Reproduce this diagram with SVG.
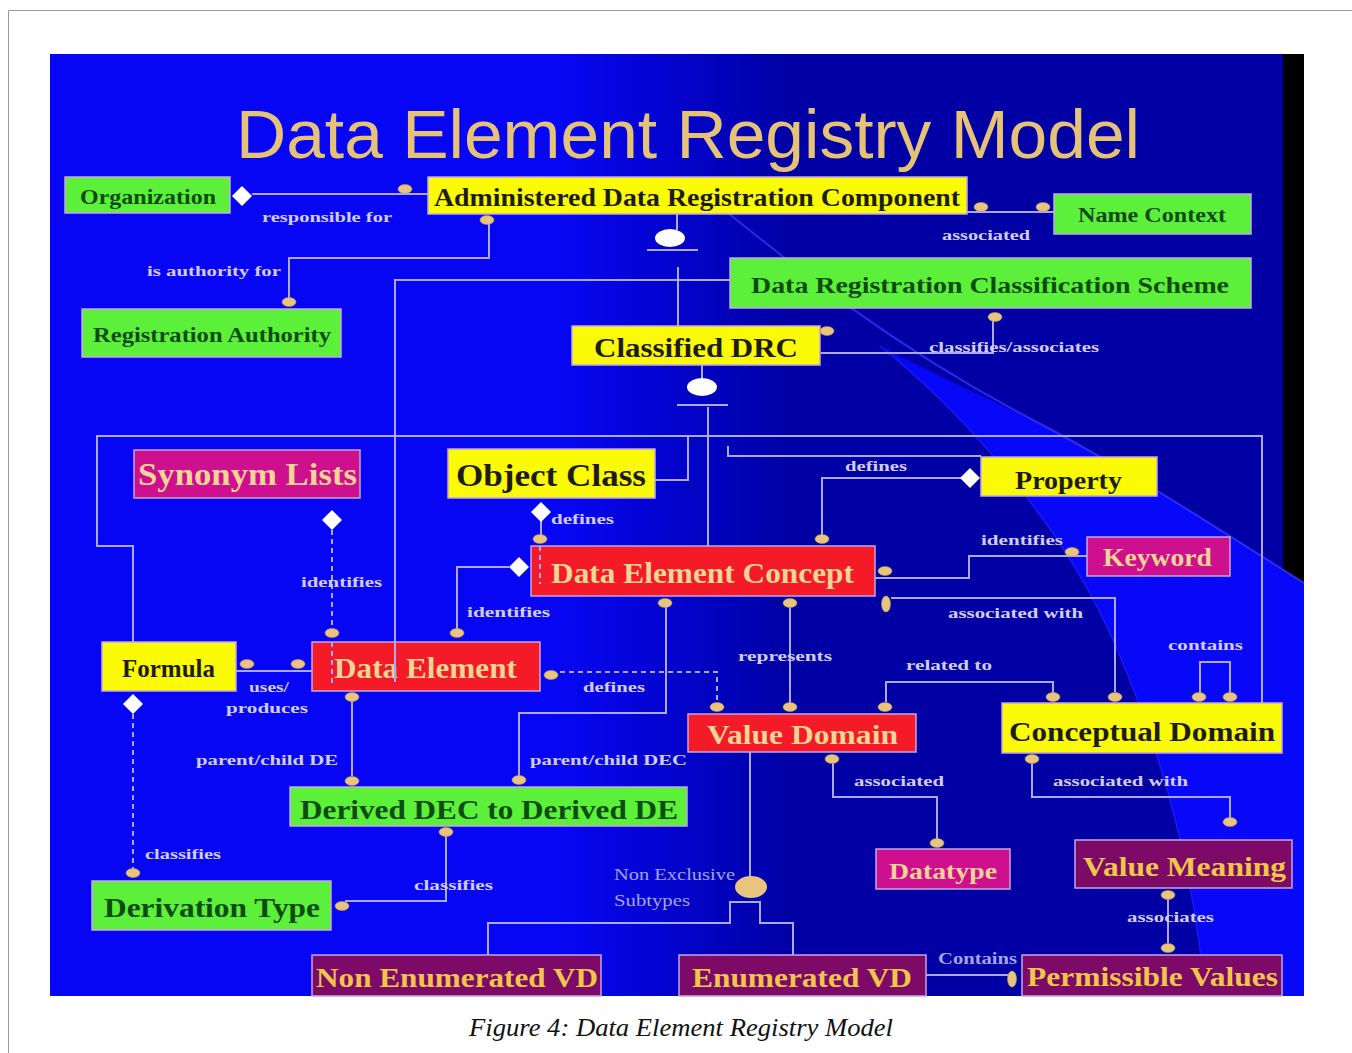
<svg xmlns="http://www.w3.org/2000/svg" xmlns:xlink="http://www.w3.org/1999/xlink" width="1352" height="1053" viewBox="0 0 1352 1053">
  <style>
    .box { stroke: #c4a6e6; stroke-width: 1.5; }
    .g { fill: #5cf03a; }
    .y { fill: #fbfb06; }
    .r { fill: #f41a28; }
    .m { fill: #cf108e; }
    .p { fill: #7c0a66; }
    .t { font-family: "Liberation Serif", "Times New Roman", serif; font-weight: bold; }
    .tg { fill: #0c4c10; }
    .ty { fill: #1e1e08; }
    .tr { fill: #f6d494; }
    .tp { fill: #efc64a; }
    .lbl { font-family: "Liberation Serif", "Times New Roman", serif; font-weight: bold; font-size: 15px; fill: #d2ccf2; }
    .lbl2 { font-family: "Liberation Serif", "Times New Roman", serif; font-size: 16px; fill: #a4a4ea; }
    .ln { fill: none; stroke: #aaa8ff; stroke-width: 2; }
    .dash { stroke-dasharray: 5 4; }
  </style>
  <defs>
    <linearGradient id="bgGrad" gradientUnits="userSpaceOnUse" x1="560" y1="0" x2="790" y2="0">
      <stop offset="0" stop-color="#0606f4"/>
      <stop offset="1" stop-color="#0000a4"/>
    </linearGradient>
    <ellipse id="ov" cx="0" cy="0" rx="7" ry="4.5" fill="#e8c47e" stroke="#b89050" stroke-width="0.6"/>
    <ellipse id="ovv" cx="0" cy="0" rx="4.5" ry="8" fill="#e8c47e" stroke="#b89050" stroke-width="0.6"/>
    <polygon id="dm" points="0,-10 10,0 0,10 -10,0" fill="#ffffff"/>
  </defs>

  <!-- page frame -->
  <rect x="0" y="0" width="1352" height="1053" fill="#ffffff"/>
  <path d="M8.5,1053 V10.5 H1352" fill="none" stroke="#9a9a9a" stroke-width="1"/>

  <!-- slide background -->
  <rect x="50" y="54" width="1254" height="942" fill="url(#bgGrad)"/>
  <path d="M1283,54 H1304 V583 L1283,571 Z" fill="#000000"/>
  <path d="M880,346 C960,410 1060,520 1113,640 S1195,880 1205,996 H1304 V583 C1200,515 1100,455 1033,420 C980,395 930,372 880,346 Z" fill="#0808f8"/>
  <path d="M690,182 C780,255 880,340 1033,420 C1120,465 1220,530 1304,583" fill="none" stroke="#3a3aff" stroke-width="2" opacity="0.7"/>
  <path d="M880,346 C960,410 1060,520 1113,640 S1195,880 1205,996" fill="none" stroke="#2a2aff" stroke-width="1.5" opacity="0.6"/>

  <!-- title -->
  <text x="236" y="158" font-family="Liberation Sans, Arial, sans-serif" font-size="69" fill="#e6c276" textLength="904" lengthAdjust="spacingAndGlyphs">Data Element Registry Model</text>

  <!-- nodes -->
  <g id="nodes">
    <g id="organization"><rect class="box g" x="65" y="177" width="165" height="36"/><text class="t tg" x="80" y="204" font-size="21" textLength="136" lengthAdjust="spacingAndGlyphs">Organization</text></g>
    <g id="administered-drc"><rect class="box y" x="428" y="177" width="539" height="37"/><text class="t ty" x="434" y="206" font-size="25" textLength="526" lengthAdjust="spacingAndGlyphs">Administered Data Registration Component</text></g>
    <g id="name-context"><rect class="box g" x="1054" y="194" width="197" height="40"/><text class="t tg" x="1078" y="222" font-size="21" textLength="148" lengthAdjust="spacingAndGlyphs">Name Context</text></g>
    <g id="classification-scheme"><rect class="box g" x="730" y="258" width="521" height="50"/><text class="t tg" x="751" y="293" font-size="24" textLength="478" lengthAdjust="spacingAndGlyphs">Data Registration Classification Scheme</text></g>
    <g id="registration-authority"><rect class="box g" x="82" y="309" width="259" height="48"/><text class="t tg" x="93" y="342" font-size="22" textLength="238" lengthAdjust="spacingAndGlyphs">Registration Authority</text></g>
    <g id="classified-drc"><rect class="box y" x="572" y="326" width="248" height="39"/><text class="t ty" x="594" y="357" font-size="28" font-weight="normal" textLength="204" lengthAdjust="spacingAndGlyphs">Classified DRC</text></g>
    <g id="synonym-lists"><rect class="box m" x="134" y="450" width="226" height="48"/><text class="t tr" x="138" y="485" font-size="31" textLength="219" lengthAdjust="spacingAndGlyphs">Synonym Lists</text></g>
    <g id="object-class"><rect class="box y" x="448" y="449" width="207" height="49"/><text class="t ty" x="456" y="486" font-size="32" textLength="190" lengthAdjust="spacingAndGlyphs">Object Class</text></g>
    <g id="property"><rect class="box y" x="981" y="457" width="176" height="39"/><text class="t ty" x="1015" y="489" font-size="25" textLength="107" lengthAdjust="spacingAndGlyphs">Property</text></g>
    <g id="data-element-concept"><rect class="box r" x="531" y="546" width="344" height="50"/><text class="t tr" x="551" y="583" font-size="29" font-weight="normal" textLength="303" lengthAdjust="spacingAndGlyphs">Data Element Concept</text></g>
    <g id="keyword"><rect class="box m" x="1087" y="537" width="143" height="39"/><text class="t tr" x="1103" y="566" font-size="25" textLength="109" lengthAdjust="spacingAndGlyphs">Keyword</text></g>
    <g id="formula"><rect class="box y" x="102" y="642" width="134" height="49"/><text class="t ty" x="122" y="677" font-size="25" font-weight="normal" textLength="93" lengthAdjust="spacingAndGlyphs">Formula</text></g>
    <g id="data-element"><rect class="box r" x="312" y="642" width="228" height="49"/><text class="t tr" x="334" y="678" font-size="29" font-weight="normal" textLength="183" lengthAdjust="spacingAndGlyphs">Data Element</text></g>
    <g id="value-domain"><rect class="box r" x="688" y="714" width="228" height="38"/><text class="t tr" x="707" y="744" font-size="27" textLength="191" lengthAdjust="spacingAndGlyphs">Value Domain</text></g>
    <g id="conceptual-domain"><rect class="box y" x="1002" y="703" width="280" height="50"/><text class="t ty" x="1009" y="741" font-size="27" textLength="266" lengthAdjust="spacingAndGlyphs">Conceptual Domain</text></g>
    <g id="derived-dec-de"><rect class="box g" x="290" y="787" width="397" height="39"/><text class="t tg" x="300" y="819" font-size="27" textLength="378" lengthAdjust="spacingAndGlyphs">Derived DEC to Derived DE</text></g>
    <g id="datatype"><rect class="box m" x="876" y="849" width="134" height="40"/><text class="t tr" x="889" y="879" font-size="24" textLength="108" lengthAdjust="spacingAndGlyphs">Datatype</text></g>
    <g id="value-meaning"><rect class="box p" x="1075" y="840" width="217" height="48"/><text class="t tp" x="1083" y="876" font-size="28" textLength="203" lengthAdjust="spacingAndGlyphs">Value Meaning</text></g>
    <g id="derivation-type"><rect class="box g" x="92" y="881" width="239" height="49"/><text class="t tg" x="104" y="917" font-size="27" textLength="216" lengthAdjust="spacingAndGlyphs">Derivation Type</text></g>
    <g id="non-enumerated-vd"><rect class="box p" x="312" y="955" width="289" height="41"/><text class="t tp" x="316" y="987" font-size="27" textLength="282" lengthAdjust="spacingAndGlyphs">Non Enumerated VD</text></g>
    <g id="enumerated-vd"><rect class="box p" x="679" y="955" width="247" height="41"/><text class="t tp" x="692" y="987" font-size="27" textLength="220" lengthAdjust="spacingAndGlyphs">Enumerated VD</text></g>
    <g id="permissible-values"><rect class="box p" x="1022" y="955" width="260" height="41"/><text class="t tp" x="1027" y="986" font-size="27" textLength="251" lengthAdjust="spacingAndGlyphs">Permissible Values</text></g>
  </g>

  <!-- connectors -->
  <g id="connectors">
    <!-- Organization / ADRC -->
    <path class="ln" d="M252,194 H428"/>
    <use href="#dm" x="242" y="196"/>
    <use href="#ov" x="405" y="189"/>
    <text class="lbl" x="262" y="222" textLength="130" lengthAdjust="spacingAndGlyphs">responsible for</text>

    <!-- ADRC / Registration Authority -->
    <path class="ln" d="M489,224 V258 H289 V298"/>
    <use href="#ov" x="487" y="220"/>
    <use href="#ov" x="289" y="302"/>
    <text class="lbl" x="147" y="276" textLength="134" lengthAdjust="spacingAndGlyphs">is authority for</text>

    <!-- ADRC / Name Context -->
    <path class="ln" d="M967,212 H1054"/>
    <use href="#ov" x="981" y="207"/>
    <use href="#ov" x="1043" y="207"/>
    <text class="lbl" x="942" y="240" textLength="88" lengthAdjust="spacingAndGlyphs">associated</text>

    <!-- ADRC subtype: Classified DRC -->
    <path class="ln" d="M677,214 V230 M647,250 H698 M678,267 V326"/>
    <ellipse cx="670" cy="238" rx="15" ry="9" fill="#ffffff"/>

    <!-- Classification Scheme / Data Element -->
    <path class="ln" d="M730,280 H395 V682"/>

    <!-- Classification Scheme / Classified DRC -->
    <path class="ln" d="M993,320 V353 H821"/>
    <use href="#ov" x="995" y="317"/>
    <use href="#ov" x="827" y="331"/>
    <text class="lbl" x="929" y="352" textLength="170" lengthAdjust="spacingAndGlyphs">classifies/associates</text>

    <!-- Classified DRC subtypes -->
    <path class="ln" d="M702,365 V378 M677,405 H728 M708,407 V546"/>
    <ellipse cx="702" cy="387" rx="15" ry="9" fill="#ffffff"/>
    <path class="ln" d="M133,642 V546 H97 V436 H1262 V703"/>
    <path class="ln" d="M688,436 V480 H655"/>
    <path class="ln" d="M728,446 V456 H981"/>

    <!-- Object Class / DEC -->
    <path class="ln" d="M541,521 V535"/>
    <path class="ln dash" d="M540,546 V584"/>
    <use href="#dm" x="541" y="512"/>
    <use href="#ov" x="540" y="539"/>
    <text class="lbl" x="551" y="524" textLength="63" lengthAdjust="spacingAndGlyphs">defines</text>

    <!-- Property / DEC -->
    <path class="ln" d="M961,478 H822 V535"/>
    <use href="#dm" x="970" y="478"/>
    <use href="#ov" x="822" y="539"/>
    <text class="lbl" x="845" y="471" textLength="62" lengthAdjust="spacingAndGlyphs">defines</text>

    <!-- Synonym Lists / Data Element -->
    <path class="ln dash" d="M332,530 V629 M332,642 V686"/>
    <use href="#dm" x="332" y="520"/>
    <use href="#ov" x="332" y="633"/>
    <text class="lbl" x="301" y="587" textLength="81" lengthAdjust="spacingAndGlyphs">identifies</text>

    <!-- DEC / Data Element -->
    <path class="ln" d="M509,567 H457 V629"/>
    <use href="#dm" x="519" y="567"/>
    <use href="#ov" x="457" y="633"/>
    <text class="lbl" x="467" y="617" textLength="83" lengthAdjust="spacingAndGlyphs">identifies</text>

    <!-- Keyword / DEC -->
    <path class="ln" d="M1087,556 H969 V578 H875"/>
    <use href="#ov" x="1072" y="552"/>
    <use href="#ov" x="885" y="571"/>
    <text class="lbl" x="981" y="545" textLength="82" lengthAdjust="spacingAndGlyphs">identifies</text>

    <!-- DEC / Conceptual Domain -->
    <path class="ln" d="M891,598 H1115 V692"/>
    <use href="#ovv" x="886" y="604"/>
    <use href="#ov" x="1115" y="697"/>
    <text class="lbl" x="948" y="618" textLength="135" lengthAdjust="spacingAndGlyphs">associated with</text>

    <!-- DEC / Value Domain -->
    <path class="ln" d="M790,607 V703"/>
    <use href="#ov" x="790" y="603"/>
    <use href="#ov" x="790" y="707"/>
    <text class="lbl" x="738" y="661" textLength="94" lengthAdjust="spacingAndGlyphs">represents</text>

    <!-- DEC / Derived -->
    <path class="ln" d="M666,607 V713 H519 V776"/>
    <use href="#ov" x="665" y="603"/>
    <use href="#ov" x="519" y="780"/>
    <text class="lbl" x="530" y="765" textLength="157" lengthAdjust="spacingAndGlyphs">parent/child DEC</text>

    <!-- Formula / Data Element -->
    <path class="ln" d="M236,671 H312"/>
    <use href="#ov" x="247" y="664"/>
    <use href="#ov" x="298" y="664"/>
    <text class="lbl" x="249" y="692" textLength="40" lengthAdjust="spacingAndGlyphs">uses/</text>
    <text class="lbl" x="226" y="713" textLength="82" lengthAdjust="spacingAndGlyphs">produces</text>

    <!-- Formula / Derivation Type -->
    <path class="ln dash" d="M133,714 V869"/>
    <use href="#dm" x="133" y="704"/>
    <use href="#ov" x="133" y="873"/>
    <text class="lbl" x="145" y="859" textLength="76" lengthAdjust="spacingAndGlyphs">classifies</text>

    <!-- Data Element / Value Domain -->
    <path class="ln dash" d="M560,672 H717 V703"/>
    <use href="#ov" x="551" y="675"/>
    <use href="#ov" x="717" y="707"/>
    <text class="lbl" x="583" y="692" textLength="62" lengthAdjust="spacingAndGlyphs">defines</text>

    <!-- Data Element / Derived -->
    <path class="ln" d="M352,701 V776"/>
    <use href="#ov" x="352" y="697"/>
    <use href="#ov" x="352" y="781"/>
    <text class="lbl" x="196" y="765" textLength="142" lengthAdjust="spacingAndGlyphs">parent/child DE</text>

    <!-- Value Domain / Conceptual Domain -->
    <path class="ln" d="M886,702 V682 H1053 V693"/>
    <use href="#ov" x="885" y="707"/>
    <use href="#ov" x="1053" y="697"/>
    <text class="lbl" x="906" y="670" textLength="86" lengthAdjust="spacingAndGlyphs">related to</text>

    <!-- Conceptual Domain contains -->
    <path class="ln" d="M1200,693 V662 H1230 V693"/>
    <use href="#ov" x="1199" y="697"/>
    <use href="#ov" x="1230" y="697"/>
    <text class="lbl" x="1168" y="650" textLength="75" lengthAdjust="spacingAndGlyphs">contains</text>

    <!-- Value Domain / Datatype -->
    <path class="ln" d="M833,762 V797 H937 V839"/>
    <use href="#ov" x="832" y="759"/>
    <use href="#ov" x="937" y="843"/>
    <text class="lbl" x="854" y="786" textLength="90" lengthAdjust="spacingAndGlyphs">associated</text>

    <!-- Conceptual Domain / Value Meaning -->
    <path class="ln" d="M1032,762 V797 H1230 V818"/>
    <use href="#ov" x="1032" y="759"/>
    <use href="#ov" x="1230" y="822"/>
    <text class="lbl" x="1053" y="786" textLength="135" lengthAdjust="spacingAndGlyphs">associated with</text>

    <!-- Derived / Derivation Type -->
    <path class="ln" d="M446,836 V901 H345"/>
    <use href="#ov" x="446" y="832"/>
    <use href="#ov" x="342" y="906"/>
    <text class="lbl" x="414" y="890" textLength="79" lengthAdjust="spacingAndGlyphs">classifies</text>

    <!-- Value Domain subtypes -->
    <path class="ln" d="M750,752 V878 M488,955 V923 H730 V902 H760 V923 H793 V955"/>
    <ellipse cx="751" cy="887" rx="16" ry="11" fill="#e8c47e"/>
    <text class="lbl2" x="614" y="880" textLength="121" lengthAdjust="spacingAndGlyphs">Non Exclusive</text>
    <text class="lbl2" x="614" y="906" textLength="76" lengthAdjust="spacingAndGlyphs">Subtypes</text>

    <!-- Enumerated VD / Permissible Values -->
    <path class="ln" d="M926,975 H1008"/>
    <use href="#ovv" x="1012" y="979"/>
    <text class="lbl2" x="938" y="964" font-weight="bold" textLength="79" lengthAdjust="spacingAndGlyphs" fill="#b4b4f2">Contains</text>

    <!-- Value Meaning / Permissible Values -->
    <path class="ln" d="M1168,899 V943"/>
    <use href="#ov" x="1168" y="895"/>
    <use href="#ov" x="1168" y="948"/>
    <text class="lbl" x="1127" y="922" textLength="87" lengthAdjust="spacingAndGlyphs">associates</text>
  </g>

  <!-- caption -->
  <text x="469" y="1036" font-family="Liberation Serif, Times New Roman, serif" font-style="italic" font-size="25" fill="#111111" textLength="424" lengthAdjust="spacingAndGlyphs">Figure 4: Data Element Registry Model</text>
</svg>
